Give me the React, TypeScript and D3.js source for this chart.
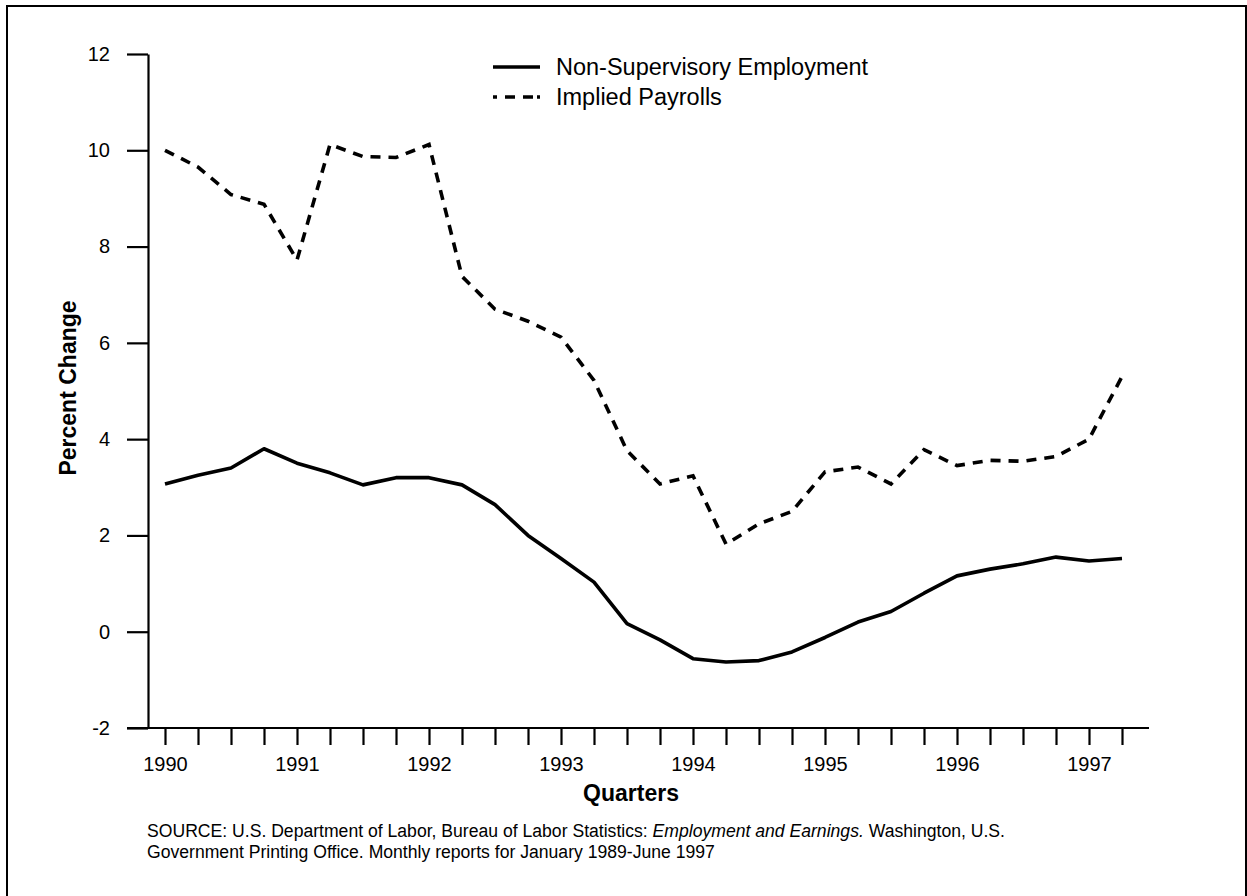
import { useEffect, useRef } from "react";
import * as d3 from "d3";

// quarters shown on the x axis, 1990 Q1 .. 1997 Q2
const quarters = [
  "1990 Q1", "1990 Q2", "1990 Q3", "1990 Q4",
  "1991 Q1", "1991 Q2", "1991 Q3", "1991 Q4",
  "1992 Q1", "1992 Q2", "1992 Q3", "1992 Q4",
  "1993 Q1", "1993 Q2", "1993 Q3", "1993 Q4",
  "1994 Q1", "1994 Q2", "1994 Q3", "1994 Q4",
  "1995 Q1", "1995 Q2", "1995 Q3", "1995 Q4",
  "1996 Q1", "1996 Q2", "1996 Q3", "1996 Q4",
  "1997 Q1", "1997 Q2",
];

const nonSupervisory = [
  3.07, 3.25, 3.4, 3.8,
  3.5, 3.3, 3.05, 3.2,
  3.2, 3.05, 2.64, 2.0,
  1.52, 1.03, 0.17, -0.17,
  -0.56, -0.63, -0.6, -0.42,
  -0.12, 0.2, 0.42, 0.8,
  1.16, 1.3, 1.41, 1.55,
  1.47, 1.52,
];

const impliedPayrolls = [
  10.0, 9.65, 9.08, 8.88,
  7.72, 10.12, 9.87, 9.85,
  10.12, 7.38, 6.7, 6.45,
  6.12, 5.22, 3.76, 3.07,
  3.24, 1.82, 2.24, 2.5,
  3.32, 3.42, 3.07, 3.78,
  3.45, 3.56, 3.54, 3.64,
  4.0, 5.3,
];

const yTicks = [-2, 0, 2, 4, 6, 8, 10, 12];

const seriesNames = ["Non-Supervisory Employment", "Implied Payrolls"];

const W = 1247;
const H = 896;
const FONT = "'Liberation Sans', Arial, Helvetica, sans-serif";

const App = () => {
  const gxRef = useRef<SVGGElement | null>(null);
  const gyRef = useRef<SVGGElement | null>(null);

  const x = d3.scalePoint<string>().domain(quarters).range([165, 1122]);
  const y = d3.scaleLinear().domain([-2, 12]).range([728, 54]);

  const line = d3
    .line<number>()
    .x((_, i) => x(quarters[i]) as number)
    .y((d) => y(d));

  useEffect(() => {
    const yAxis = d3
      .axisLeft(y)
      .tickValues(yTicks)
      .tickSize(21)
      .tickSizeOuter(0)
      .tickPadding(17)
      .tickFormat((d) => String(d));
    const gy = d3.select(gyRef.current).call(yAxis as any);
    gy.select(".domain").attr("stroke-width", 2.2);
    gy.selectAll(".tick line").attr("stroke-width", 2.2);
    gy.selectAll(".tick text")
      .attr("font-size", 20)
      .attr("font-family", FONT)
      .attr("fill", "#000");

    const xAxis = d3
      .axisBottom(x)
      .tickSize(17)
      .tickSizeOuter(0)
      .tickPadding(12)
      .tickFormat((d) => (d.endsWith("Q1") ? d.slice(0, 4) : ""));
    const gx = d3.select(gxRef.current).call(xAxis as any);
    gx.select(".domain").remove();
    gx.selectAll(".tick line").attr("stroke-width", 2.2);
    gx.selectAll(".tick text")
      .attr("font-size", 20)
      .attr("font-family", FONT)
      .attr("fill", "#000");
  }, []);

  return (
    <svg
      width={W}
      height={H}
      style={{ position: "absolute", left: 0, top: 0, background: "#fff" }}
    >
      {/* page frame */}
      <rect x={7} y={6} width={1239} height={H} fill="none" stroke="#000" strokeWidth={2} />

      <g ref={gyRef} transform="translate(148,0)" />
      <line x1={127} x2={1149} y1={y(-2)} y2={y(-2)} stroke="#000" strokeWidth={2.2} />
      <g ref={gxRef} transform={`translate(0,${y(-2)})`} />

      <path
        d={line(impliedPayrolls) || ""}
        fill="none"
        stroke="#000"
        strokeWidth={3.6}
        strokeDasharray="10 8"
      />
      <path
        d={line(nonSupervisory) || ""}
        fill="none"
        stroke="#000"
        strokeWidth={3.6}
        strokeLinejoin="round"
      />

      {/* legend */}
      <g fontFamily={FONT} fontSize={23.5} fill="#000">
        <line x1={493} x2={540} y1={67} y2={67} stroke="#000" strokeWidth={3.6} />
        <text x={556} y={75}>{seriesNames[0]}</text>
        <line x1={493} x2={540} y1={97} y2={97} stroke="#000" strokeWidth={3.6} strokeDasharray="4 8 10 8 10" />
        <text x={556} y={105}>{seriesNames[1]}</text>
      </g>

      <text
        transform="translate(76,388) rotate(-90)"
        textAnchor="middle"
        fontFamily={FONT}
        fontWeight="bold"
        fontSize={23}
      >
        Percent Change
      </text>
      <text x={631} y={801} textAnchor="middle" fontFamily={FONT} fontWeight="bold" fontSize={23}>
        Quarters
      </text>

      <g fontFamily={FONT} fontSize={17.6} fill="#000">
        <text x={147} y={837}>
          SOURCE: U.S. Department of Labor, Bureau of Labor Statistics:{" "}
          <tspan fontStyle="italic">Employment and Earnings.</tspan> Washington, U.S.
        </text>
        <text x={147} y={858}>
          Government Printing Office. Monthly reports for January 1989-June 1997
        </text>
      </g>
    </svg>
  );
};

export default App;
